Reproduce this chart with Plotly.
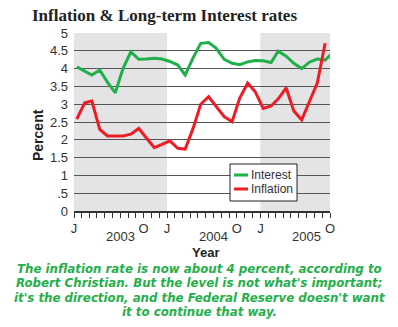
import plotly.graph_objects as go
import pandas as pd

# ---- data ----
start_month = "2003-01-01"
interest = [4.05, 3.93, 3.82, 3.96, 3.62, 3.32, 4.0, 4.47, 4.26, 4.27, 4.29, 4.27,
            4.2, 4.1, 3.82, 4.3, 4.71, 4.73, 4.57, 4.26, 4.15, 4.11, 4.19, 4.23,
            4.22, 4.17, 4.49, 4.35, 4.15, 4.0, 4.18, 4.27, 4.24, 4.45]
inflation = [2.58, 3.04, 3.09, 2.29, 2.11, 2.11, 2.11, 2.16, 2.32, 2.05, 1.78, 1.87,
             1.97, 1.76, 1.74, 2.32, 3.0, 3.21, 2.93, 2.65, 2.51, 3.17, 3.59, 3.35,
             2.88, 2.95, 3.15, 3.46, 2.81, 2.56, 3.07, 3.59, 4.71]
series_names = ["Interest", "Inflation"]
y_ticks = [0, 0.5, 1, 1.5, 2, 2.5, 3, 3.5, 4, 4.5, 5]
y_ticktext = ["0", ".5", "1", "1.5", "2", "2.5", "3", "3.5", "4", "4.5", "5"]
years = ["2003", "2004", "2005"]
month_letters = {1: "J", 10: "O"}
shaded_years = [("2003-01-01", "2004-01-01"), ("2005-01-01", "2005-10-20")]

title = "Inflation & Long-term Interest rates"
caption_lines = ["The inflation rate is now about 4 percent, according to",
                 "Robert Christian. But the level is not what's important;",
                 "it's the direction, and the Federal Reserve doesn't want",
                 "it to continue that way."]

GREEN = "#1fb04a"
RED = "#ee1c25"
COLORS = [GREEN, RED]

months = pd.date_range(start_month, periods=len(interest), freq="MS")
x_int = months + pd.Timedelta(days=11)
x_inf = x_int[:len(inflation)]

tick_dates = pd.date_range(start_month, "2005-10-01", freq="MS")
tick_text = [month_letters.get(d.month, "") for d in tick_dates]

fig = go.Figure()
fig.add_trace(go.Scatter(x=x_int, y=interest, mode="lines", name=series_names[0],
                         line=dict(color=GREEN, width=3), showlegend=False))
fig.add_trace(go.Scatter(x=x_inf, y=inflation, mode="lines", name=series_names[1],
                         line=dict(color=RED, width=3), showlegend=False))

for a, b in shaded_years:
    fig.add_vrect(x0=a, x1=b, fillcolor="#e4e4e6", line_width=0, layer="below")

W, H = 256, 178  # plot area size in px
def px(x):
    return (x - 74) / W
def py(y):
    return (211 - y) / H

fig.update_layout(
    width=398, height=327,
    margin=dict(l=74, r=68, t=33, b=116),
    paper_bgcolor="white", plot_bgcolor="white",
    title=dict(text=title, x=32/398, xanchor="left", y=1-15/327, yanchor="middle",
               font=dict(family="Liberation Serif, Times New Roman, serif", size=17,
                         color="#222", weight="bold")),
)

fig.update_xaxes(range=["2003-01-01", "2005-10-01"], tickmode="array",
                 tickvals=tick_dates, ticktext=tick_text, ticks="outside",
                 ticklen=5, tickcolor="#333", showgrid=False, showline=True,
                 linecolor="#333", linewidth=1.5, zeroline=False,
                 tickfont=dict(family="Liberation Sans, Arial", size=13, color="#333"))
fig.update_yaxes(range=[0, 5], tickmode="array", tickvals=y_ticks, ticktext=y_ticktext,
                 showgrid=True, gridcolor="#555", gridwidth=1.2, zeroline=False,
                 showline=False, ticks="", ticklabelstandoff=5,
                 tickfont=dict(family="Liberation Sans, Arial", size=13, color="#333"))

# manual legend box
fig.add_shape(type="rect", xref="paper", yref="paper",
              x0=px(230), x1=px(297), y0=py(201), y1=py(164),
              fillcolor="white", line=dict(color="#222", width=1))
for name, col, yy in zip(series_names, COLORS, [175, 189]):
    fig.add_shape(type="line", xref="paper", yref="paper",
                  x0=px(234), x1=px(248), y0=py(yy), y1=py(yy),
                  line=dict(color=col, width=3))
    fig.add_annotation(x=px(249), y=py(yy), xref="paper", yref="paper",
                       text=name, showarrow=False, xanchor="left", yanchor="middle",
                       font=dict(family="Liberation Sans, Arial", size=12, color="#333"))

for yr in years:
    fig.add_annotation(x=f"{yr}-07-01", y=py(237), xref="x", yref="paper",
                       text=yr, showarrow=False, yanchor="middle", xanchor="center",
                       font=dict(family="Liberation Sans, Arial", size=13, color="#333"))

fig.add_annotation(x=px(38), y=py(135), xref="paper", yref="paper",
                   text="<b>Percent</b>", textangle=-90, showarrow=False,
                   xanchor="center", yanchor="middle",
                   font=dict(family="Liberation Sans, Arial", size=14, color="#222"))
fig.add_annotation(x=px(205), y=py(253), xref="paper", yref="paper",
                   text="<b>Year</b>", showarrow=False, xanchor="center", yanchor="middle",
                   font=dict(family="Liberation Sans, Arial", size=13, color="#222"))
for line, yy in zip(caption_lines, [268.5, 283, 297.5, 312]):
    fig.add_annotation(x=px(199), y=py(yy), xref="paper", yref="paper",
                       text=line, showarrow=False, xanchor="center", yanchor="middle",
                       font=dict(family="DejaVu Sans", size=11.8, color=GREEN,
                                 style="italic", weight="bold"))

fig.write_html("out.html")
